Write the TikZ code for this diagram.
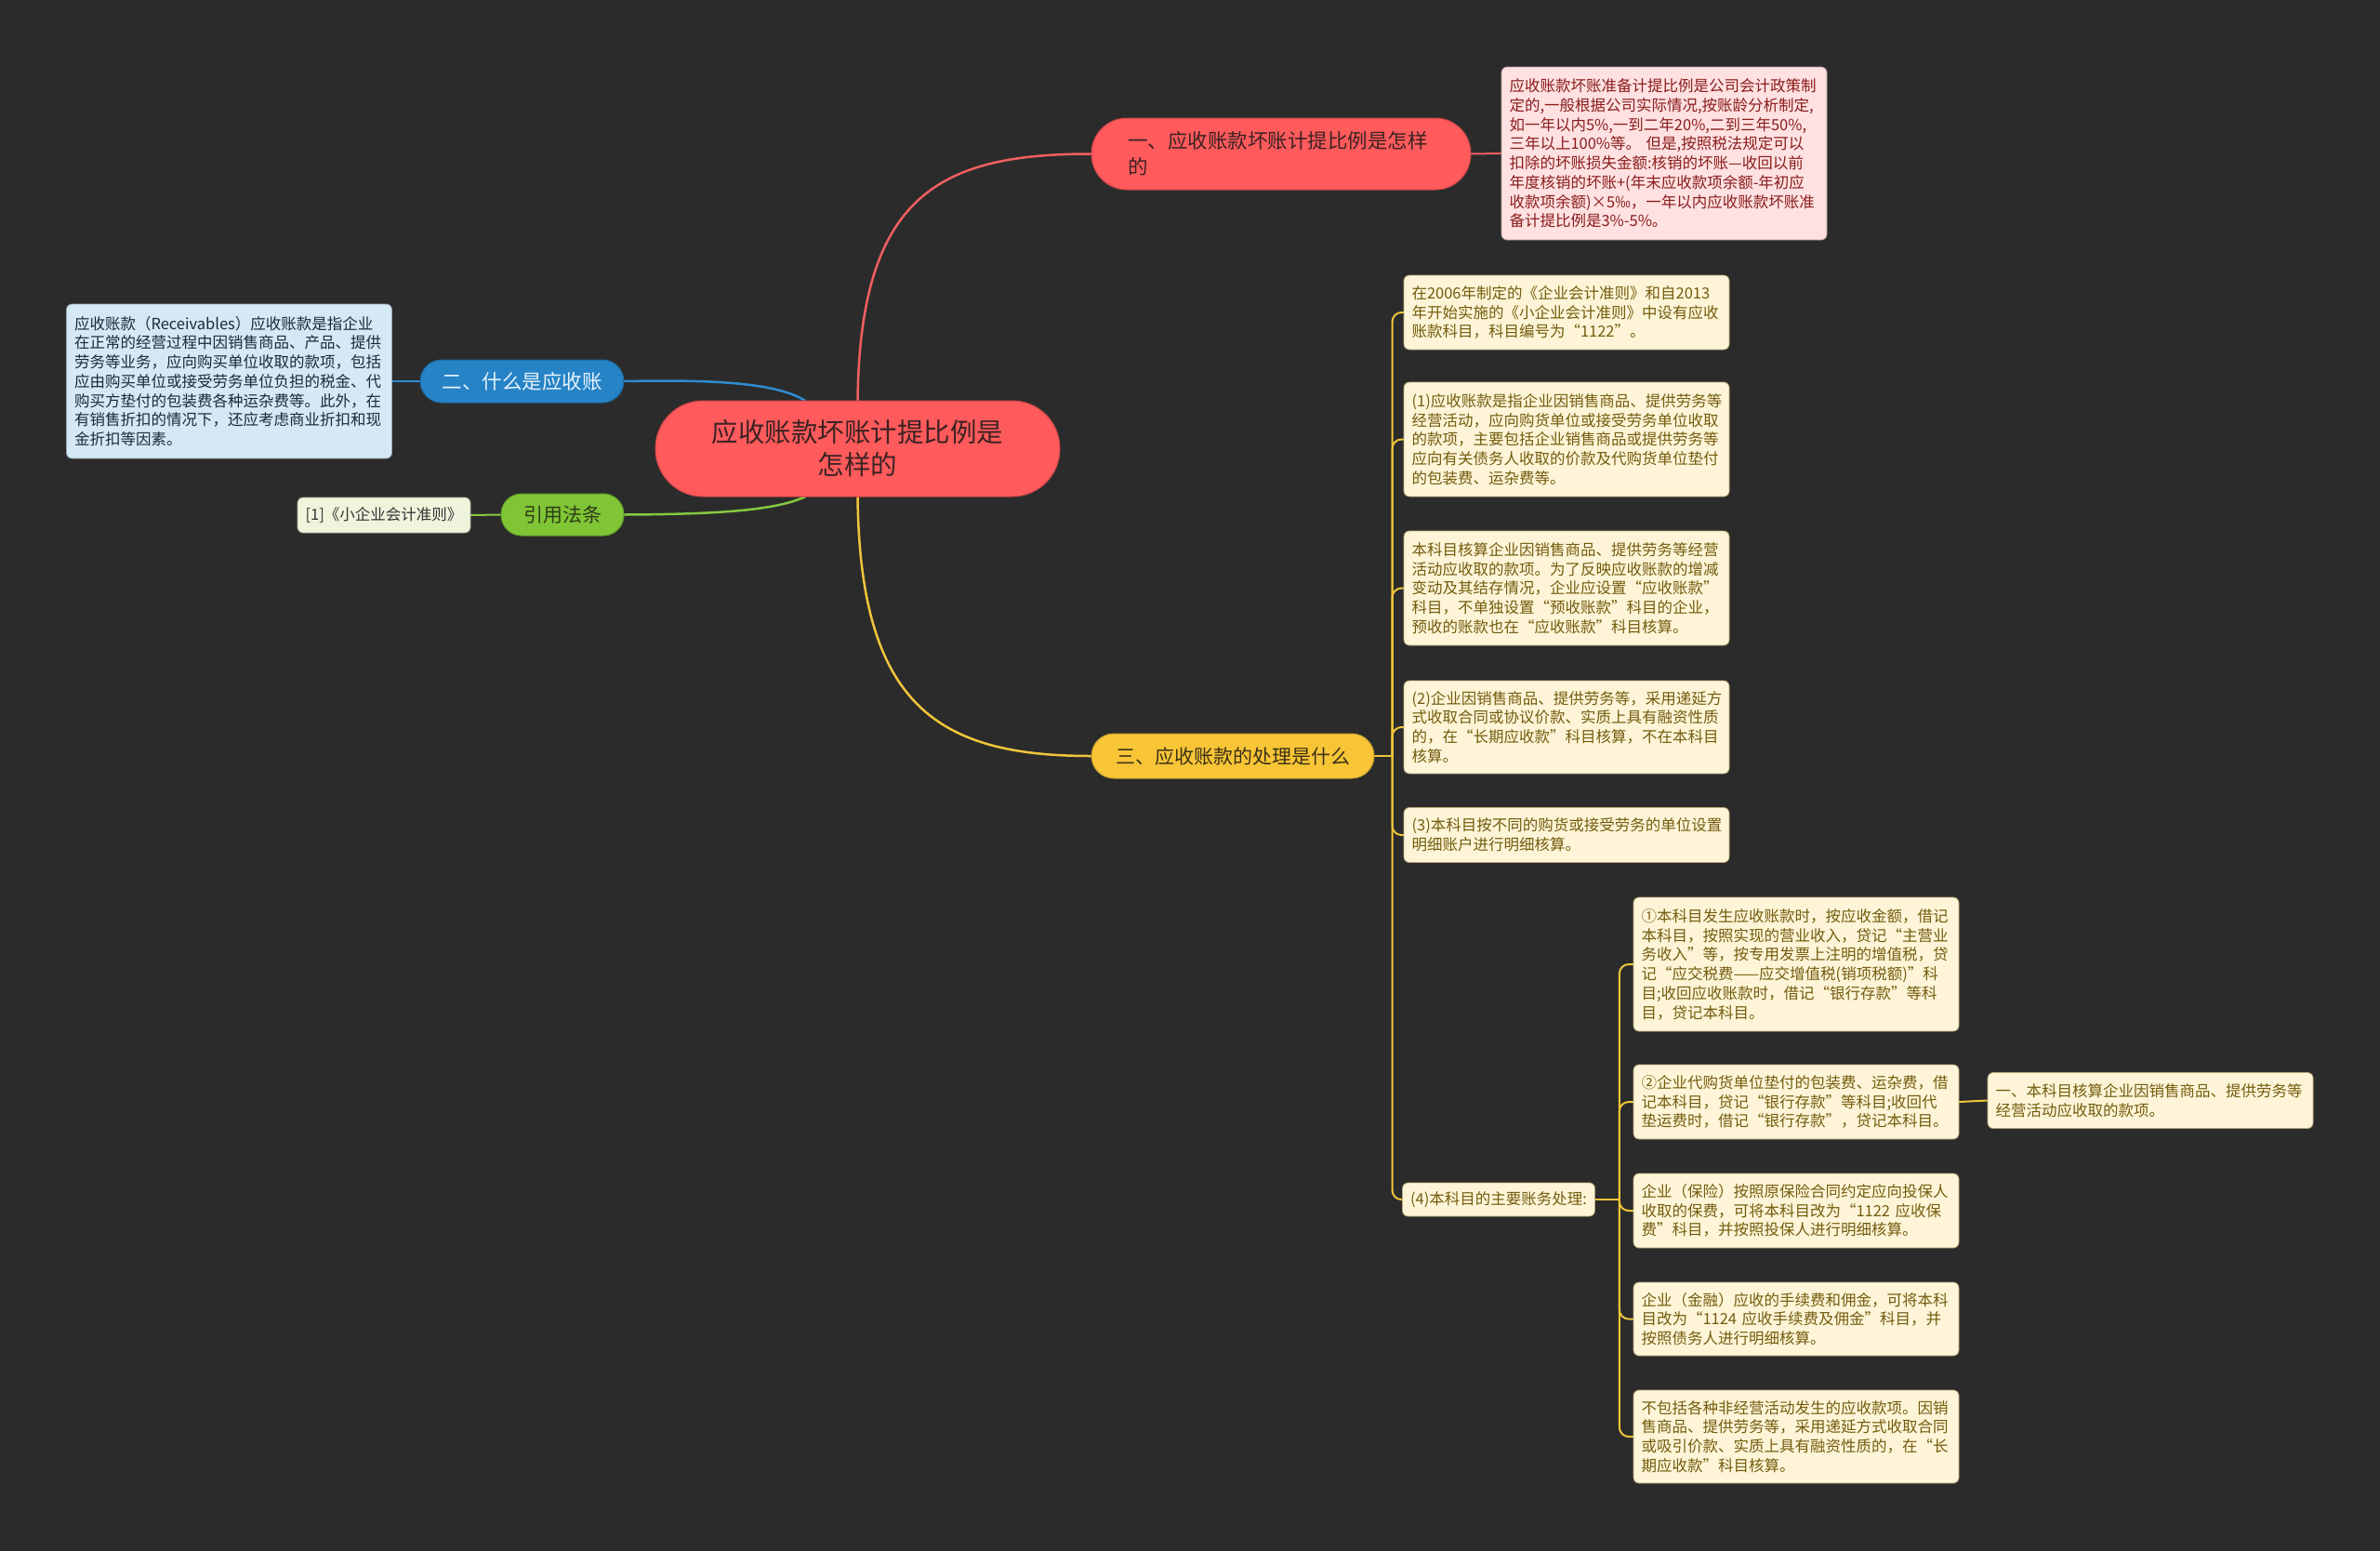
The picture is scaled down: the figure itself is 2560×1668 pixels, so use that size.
\documentclass[tikz,border=0pt]{standalone}
\usepackage{fontspec}
\setmainfont{Noto Sans CJK SC}
\usetikzlibrary{calc}
\pgfdeclarelayer{background}
\pgfsetlayers{background,main}
\definecolor{bg}{HTML}{2B2B2B}
\definecolor{redf}{HTML}{FF5A5C}
\definecolor{redd}{HTML}{C84446}
\definecolor{redt}{HTML}{3B2222}
\definecolor{redl}{HTML}{F0605F}
\definecolor{pinkf}{HTML}{FFE1E1}
\definecolor{pinkt}{HTML}{8A1C1C}
\definecolor{bluef}{HTML}{2683C6}
\definecolor{bluel}{HTML}{2E8BD0}
\definecolor{bluet}{HTML}{E6F2FC}
\definecolor{bnf}{HTML}{D5E8F5}
\definecolor{bnt}{HTML}{1B2A38}
\definecolor{greenf}{HTML}{80C535}
\definecolor{greenl}{HTML}{86C840}
\definecolor{greent}{HTML}{2E3C18}
\definecolor{gnf}{HTML}{EEF5DC}
\definecolor{gnt}{HTML}{333333}
\definecolor{yelf}{HTML}{F8C537}
\definecolor{yell}{HTML}{F0C53A}
\definecolor{yelt}{HTML}{3B3015}
\definecolor{ynf}{HTML}{FEF5D8}
\definecolor{ynt}{HTML}{735C0E}
\definecolor{ynd}{HTML}{B8A878}
\tikzset{
  notebox/.style={rectangle, rounded corners=6pt, inner xsep=8.5pt, inner ysep=0pt,
    align=left, text width=333pt, line width=0.8pt,
    font=\fontsize{16.5}{20.75}\selectfont},
  ynote/.style={notebox, fill=ynf, draw=ynd, text=ynt},
  pnote/.style={notebox, fill=pinkf, draw=pinkf!70!black, text=pinkt},
  bnote/.style={notebox, fill=bnf, draw=bnf!70!black, text=bnt},
  gnote/.style={notebox, fill=gnf, draw=gnf!70!black, text=gnt, text width=, align=center},
  pill/.style={rectangle, inner ysep=0pt, line width=1pt, font=\fontsize{21.5}{28}\selectfont},
  redpill/.style={pill, fill=redf, draw=redd, text=redt},
  conn/.style={line width=2.5pt, line cap=round},
  spine/.style={line width=2pt, line cap=round, color=yell, rounded corners=10pt},
}
\begin{document}
\begin{tikzpicture}[x=1pt, y=-1pt]
\useasboundingbox (0,0) rectangle (2560,1668);

% root
\node[redpill, minimum width=435pt, minimum height=103pt, rounded corners=51pt,
  align=center, font=\fontsize{28.5}{35}\selectfont] (root) at (922.5,482.5)
  {应收账款坏账计提比例是\\怎样的};

% branches
\node[redpill, minimum height=77pt, rounded corners=38pt, text width=330pt, inner xsep=39pt, align=left] (b1) at (1378,165.5)
  {一、应收账款坏账计提比例是怎样\\的};
\node[pill, fill=bluef, draw=bluef!80!black, text=bluet, minimum width=219pt, minimum height=46pt, rounded corners=23pt] (b2) at (561.5,410)
  {二、什么是应收账};
\node[pill, fill=greenf, draw=greenf!80!black, text=greent, minimum width=132pt, minimum height=45pt, rounded corners=22pt, font=\fontsize{21}{26}\selectfont] (b3) at (605,553.5)
  {引用法条};
\node[pill, fill=yelf, draw=yelf!80!black, text=yelt, minimum width=304pt, minimum height=48pt, rounded corners=24pt, font=\fontsize{21}{26}\selectfont] (b4) at (1326,813)
  {三、应收账款的处理是什么};

% attach points on the root
\coordinate (rtop) at (root.north);
\coordinate (rbot) at (root.south);
\coordinate (rtl) at ($(root.north)+(-57,0)$);
\coordinate (rbl) at ($(root.south)+(-57,0)$);

% notes
\node[pnote, minimum height=186pt] (p1) at (1790,165)
  {应收账款坏账准备计提比例是公司会计政策制\\定的,一般根据公司实际情况,按账龄分析制定,\\如一年以内5\%,一到二年20\%,二到三年50\%,\\三年以上100\%等。 但是,按照税法规定可以\\扣除的坏账损失金额:核销的坏账—收回以前\\年度核销的坏账+(年末应收款项余额-年初应\\收款项余额)×5‰，一年以内应收账款坏账准\\备计提比例是3\%-5\%。};
\node[bnote, minimum height=166pt] (bn) at (246.5,410)
  {应收账款（Receivables）应收账款是指企业\\在正常的经营过程中因销售商品、产品、提供\\劳务等业务，应向购买单位收取的款项，包括\\应由购买单位或接受劳务单位负担的税金、代\\购买方垫付的包装费各种运杂费等。此外，在\\有销售折扣的情况下，还应考虑商业折扣和现\\金折扣等因素。};
\node[gnote, minimum width=186pt, minimum height=38pt] (gn) at (413,554)
  {[1]《小企业会计准则》};

\node[ynote, minimum height=80pt] (y1) at (1685,336)
  {在2006年制定的《企业会计准则》和自2013\\年开始实施的《小企业会计准则》中设有应收\\账款科目，科目编号为“1122”。};
\node[ynote, minimum height=123pt] (y2) at (1685,472.5)
  {(1)应收账款是指企业因销售商品、提供劳务等\\经营活动，应向购货单位或接受劳务单位收取\\的款项，主要包括企业销售商品或提供劳务等\\应向有关债务人收取的价款及代购货单位垫付\\的包装费、运杂费等。};
\node[ynote, minimum height=123pt] (y3) at (1685,632.5)
  {本科目核算企业因销售商品、提供劳务等经营\\活动应收取的款项。为了反映应收账款的增减\\变动及其结存情况，企业应设置“应收账款”\\科目，不单独设置“预收账款”科目的企业，\\预收的账款也在“应收账款”科目核算。};
\node[ynote, minimum height=100pt] (y4) at (1685,782)
  {(2)企业因销售商品、提供劳务等，采用递延方\\式收取合同或协议价款、实质上具有融资性质\\的，在“长期应收款”科目核算，不在本科目\\核算。};
\node[ynote, minimum height=59pt] (y5) at (1685,898)
  {(3)本科目按不同的购货或接受劳务的单位设置\\明细账户进行明细核算。};
\node[ynote, text width=, minimum width=204pt, minimum height=36pt] (y6) at (1612,1290)
  {(4)本科目的主要账务处理:};

\node[ynote, minimum height=144pt] (s1) at (1932,1037)
  {①本科目发生应收账款时，按应收金额，借记\\本科目，按照实现的营业收入，贷记“主营业\\务收入”等，按专用发票上注明的增值税，贷\\记“应交税费——应交增值税(销项税额)”科\\目;收回应收账款时，借记“银行存款”等科\\目，贷记本科目。};
\node[ynote, minimum height=80pt] (s2) at (1932,1185)
  {②企业代购货单位垫付的包装费、运杂费，借\\记本科目，贷记“银行存款”等科目;收回代\\垫运费时，借记“银行存款”，贷记本科目。};
\node[ynote, minimum height=80pt] (s3) at (1932,1302)
  {企业（保险）按照原保险合同约定应向投保人\\收取的保费，可将本科目改为“1122 应收保\\费”科目，并按照投保人进行明细核算。};
\node[ynote, minimum height=79pt] (s4) at (1932,1418.5)
  {企业（金融）应收的手续费和佣金，可将本科\\目改为“1124 应收手续费及佣金”科目，并\\按照债务人进行明细核算。};
\node[ynote, minimum height=100pt] (s5) at (1932,1545)
  {不包括各种非经营活动发生的应收款项。因销\\售商品、提供劳务等，采用递延方式收取合同\\或吸引价款、实质上具有融资性质的，在“长\\期应收款”科目核算。};
\node[ynote, minimum height=60pt] (r1) at (2313,1183.5)
  {一、本科目核算企业因销售商品、提供劳务等\\经营活动应收取的款项。};

\coordinate (sp4) at ($(b4.east)+(19,0)$);
\coordinate (sp6) at ($(y6.east)+(26,0)$);

% connectors and background, behind the nodes
\begin{pgfonlayer}{background}
\fill[bg] (0,0) rectangle (2560,1668);
\draw[conn, redl] (rtop) .. controls (925,210) and (1010,165.5) .. (b1.west);
\draw[conn, redl, line width=2pt] (b1.east) -- (p1.west);
\draw[conn, yell] (rbot) .. controls (925,760) and (1010,813) .. (b4.west);
\draw[conn, bluel] (b2.east) .. controls (770,408) and (835,412) .. (rtl);
\draw[conn, bluel, line width=2pt] (bn.east) -- (b2.west);
\draw[conn, greenl] (b3.east) .. controls (780,553) and (835,548) .. (rbl);
\draw[conn, greenl, line width=2pt] (gn.east) -- (b3.west);
\draw[spine] (b4.east) -- (sp4);
\foreach \n in {y1,y2,y3,y4,y5,y6} \draw[spine] (sp4) |- (\n.west);
\draw[spine] (y6.east) -- (sp6);
\foreach \n in {s1,s2,s3,s4,s5} \draw[spine] (sp6) |- (\n.west);
\draw[spine] (s2.east) -- (r1.west);
\end{pgfonlayer}
\end{tikzpicture}
\end{document}
